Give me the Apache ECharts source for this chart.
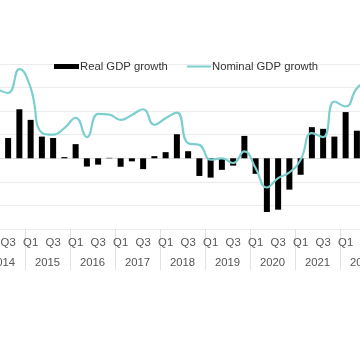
<!DOCTYPE html>
<html>
<head>
<meta charset="utf-8">
<script src="https://cdn.jsdelivr.net/npm/echarts@6/dist/echarts.min.js"></script>
<style>
  html, body { margin: 0; padding: 0; background: #fff; }
  #chart { width: 360px; height: 337px; }
</style>
</head>
<body>
<div id="chart"></div>
<script>
// Quarterly GDP growth, 2014 Q1 – 2022 Q4
var years = ['2014', '2015', '2016', '2017', '2018', '2019', '2020', '2021', '2022'];
var quarterNames = ['Q1', 'Q2', 'Q3', 'Q4'];

var realGrowth = [
  null, null, 0.86, 2.08,
  1.63, 0.92, 0.86, 0.05,
  0.60, -0.35, -0.27, 0.02,
  -0.36, -0.13, -0.46, 0.09,
  0.26, 1.02, 0.30, -0.75,
  -0.82, -0.49, -0.31, 0.95,
  -0.66, -2.28, -2.18, -1.33,
  -0.70, 1.32, 1.25, 0.92,
  1.96, 1.17, null, null
];

var nominalGrowth = [
  null, 2.95, 2.77, 3.78,
  2.99, 1.08, 1.00, 1.28,
  1.72, 0.90, 1.88, 1.85,
  1.63, 1.84, 2.08, 1.42,
  1.70, 1.94, 0.64, 0.57,
  -0.06, 0.00, -0.20, 0.29,
  -0.42, -1.24, -0.84, -0.60,
  -0.06, 1.07, 0.90, 2.41,
  2.20, 2.97, 3.30, null
];

var quarters = [];
years.forEach(function (y) {
  quarterNames.forEach(function (q) { quarters.push(y + ' ' + q); });
});

var font = 'Liberation Sans, Arial, sans-serif';
var fontSize = 11.3;
var lineColor = '#7dcfcf';

function legendBox(name, left, w, h) {
  return {
    left: left,
    top: 61,
    padding: 0,
    itemWidth: w,
    itemHeight: h,
    icon: 'rect',
    selectedMode: false,
    textStyle: { fontFamily: font, fontSize: fontSize, color: '#333333', padding: [0, 0, 0, -4] },
    data: [name]
  };
}

var chart = echarts.init(document.getElementById('chart'), null, { renderer: 'canvas' });

chart.setOption({
  animation: false,
  backgroundColor: '#ffffff',
  textStyle: { fontFamily: font },
  legend: [
    legendBox('Real GDP growth', 54, 25, 5),
    legendBox('Nominal GDP growth', 187, 24, 2)
  ],
  grid: {
    left: -20, right: -25, top: 64, bottom: 108,
    containLabel: false,
    outerBoundsMode: 'none'
  },
  xAxis: [
    {
      type: 'category',
      data: quarters,
      position: 'bottom',
      boundaryGap: true,
      axisLine: { show: true, lineStyle: { color: '#e2e2e2', width: 1 } },
      axisTick: { show: false },
      axisLabel: {
        interval: 0,
        margin: 8,
        hideOverlap: false,
        fontFamily: font,
        fontSize: fontSize,
        color: '#555555',
        formatter: function (v) {
          var q = v.split(' ')[1];
          return (q === 'Q1' || q === 'Q3') ? q : '';
        }
      },
      splitLine: { show: false }
    },
    {
      type: 'category',
      data: years,
      position: 'bottom',
      offset: 0,
      boundaryGap: true,
      axisLine: { show: false },
      axisTick: { show: true, length: 41, lineStyle: { color: '#e2e2e2', width: 1 } },
      axisLabel: {
        interval: 0,
        margin: 28,
        fontFamily: font,
        fontSize: fontSize,
        color: '#555555'
      },
      splitLine: { show: false }
    }
  ],
  yAxis: {
    type: 'value',
    min: -3,
    max: 4,
    interval: 1,
    axisLine: { show: false },
    axisTick: { show: false },
    axisLabel: { show: false },
    splitLine: { show: true, lineStyle: { color: '#ececec', width: 1 } }
  },
  series: [
    {
      name: 'Real GDP growth',
      type: 'bar',
      xAxisIndex: 0,
      data: realGrowth,
      barWidth: 6,
      itemStyle: { color: '#000000' }
    },
    {
      name: 'Nominal GDP growth',
      type: 'line',
      xAxisIndex: 0,
      data: nominalGrowth,
      smooth: true,
      symbol: 'none',
      lineStyle: { color: lineColor, width: 2.2 },
      itemStyle: { color: lineColor },
      z: 3
    }
  ]
});
</script>
</body>
</html>
